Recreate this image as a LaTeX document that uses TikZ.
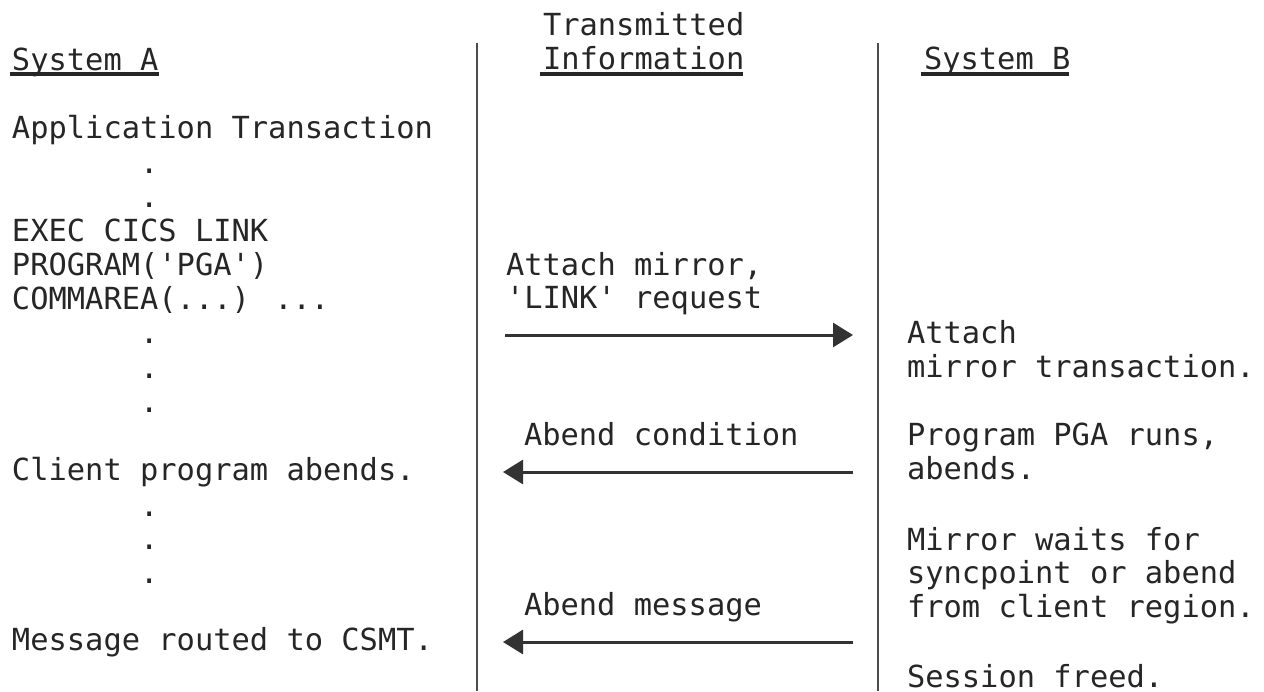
\documentclass[tikz,border=0pt]{standalone}
\usepackage{fontspec}
\newfontfamily\monoA{DejaVu Sans Mono}
\usetikzlibrary{arrows.meta}
\begin{document}
\begin{tikzpicture}[x=1pt,y=-1pt,
  txt/.style={anchor=base west, inner sep=0pt, outer sep=0pt,
              font=\monoA\fontsize{30.4}{34}\selectfont, text=black!85},
  sepline/.style={line width=2.5pt, black!70},
  msg/.style={line width=3pt, black!80, -{Triangle[length=20pt,width=24pt]}},
  uline/.style={line width=3.5pt, black!85}]
\useasboundingbox (0,0) rectangle (1264,691);
\fill[white] (0,0) rectangle (1264,691);

% column separators
\coordinate (s1t) at (477,43);
\coordinate (s1b) at (477,691);
\coordinate (s2t) at (878,43);
\coordinate (s2b) at (878,691);
\draw[sepline] (s1t) -- (s1b);
\draw[sepline] (s2t) -- (s2b);

% headers
\node[txt] (ha) at (12,70) {System A};
\node[txt] (ht) at (543,35) {Transmitted};
\node[txt] (hi) at (543,69) {Information};
\node[txt] (hb) at (924,69) {System B};
\draw[uline] (10,74) -- (159,74);
\draw[uline] (540,74) -- (743,74);
\draw[uline] (921,74) -- (1069,74);

% System A column
\node[txt] (a1) at (12,138) {Application Transaction};
\node[txt] (d1) at (140,173) {.};
\node[txt] (d2) at (140,207) {.};
\node[txt] (a2) at (12,241) {EXEC CICS LINK};
\node[txt] (a3) at (12,275) {PROGRAM(\textquotesingle PGA\textquotesingle)};
\node[txt] (a4) at (12,309) {COMMAREA(...) ...};
\node[txt] (d3) at (140,343) {.};
\node[txt] (d4) at (140,378) {.};
\node[txt] (d5) at (140,412) {.};
\node[txt] (a5) at (12,480) {Client program abends.};
\node[txt] (d6) at (140,516) {.};
\node[txt] (d7) at (140,549) {.};
\node[txt] (d8) at (140,583) {.};
\node[txt] (a6) at (12,650) {Message routed to CSMT.};

% Transmitted information column
\node[txt] (m1) at (506,275) {Attach mirror,};
\node[txt] (m2) at (506,308) {\textquotesingle LINK\textquotesingle{} request};
\node[txt] (m3) at (524,445) {Abend condition};
\node[txt] (m4) at (524,615) {Abend message};

\coordinate (p1l) at (505,335);
\coordinate (p1r) at (853,335);
\coordinate (p2l) at (503,472);
\coordinate (p2r) at (853,472);
\coordinate (p3l) at (503,642);
\coordinate (p3r) at (853,642);
\draw[msg] (p1l) -- (p1r);
\draw[msg] (p2r) -- (p2l);
\draw[msg] (p3r) -- (p3l);

% System B column
\node[txt] (b1) at (907,343) {Attach};
\node[txt] (b2) at (907,377) {mirror transaction.};
\node[txt] (b3) at (907,445) {Program PGA runs,};
\node[txt] (b4) at (907,479) {abends.};
\node[txt] (b5) at (907,550) {Mirror waits for};
\node[txt] (b6) at (907,583) {syncpoint or abend};
\node[txt] (b7) at (907,617) {from client region.};
\node[txt] (b8) at (907,687) {Session freed.};
\end{tikzpicture}
\end{document}
